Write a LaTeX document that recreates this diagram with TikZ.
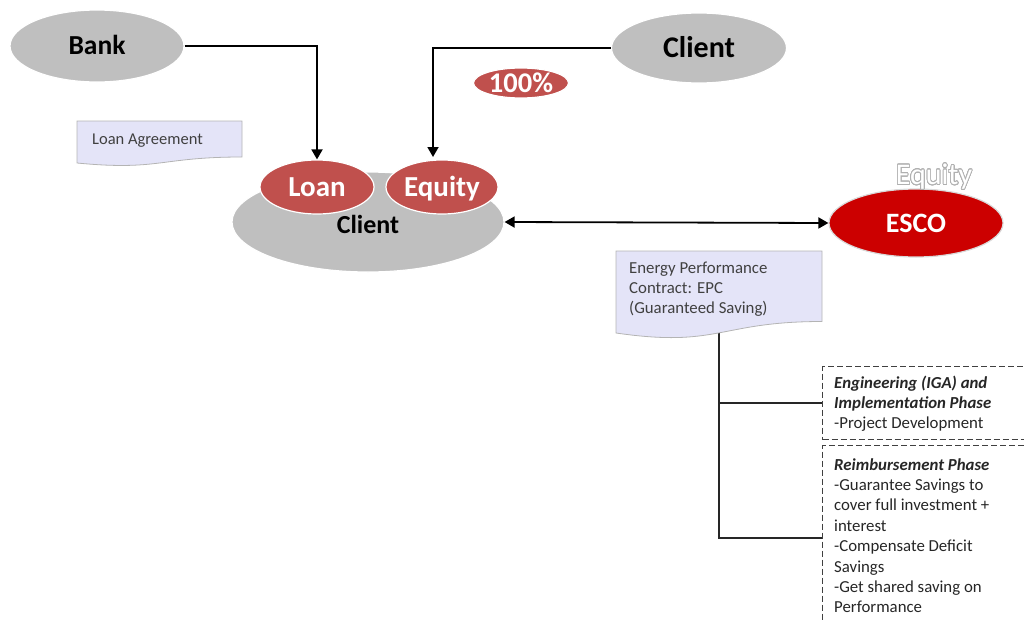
\documentclass[tikz,border=0pt]{standalone}
\usepackage{fontspec}
\setmainfont{Carlito}
\usepackage{contour}
\usetikzlibrary{shapes.geometric,arrows.meta}
\definecolor{ovalgray}{HTML}{BFBFBF}
\definecolor{ovalred}{HTML}{C0504D}
\definecolor{escored}{HTML}{CC0000}
\definecolor{notefill}{HTML}{E4E4F8}
\definecolor{noteline}{HTML}{B4B4B4}
\definecolor{txtgray}{HTML}{404040}
\definecolor{txtdark}{HTML}{262626}
\definecolor{outlinegray}{HTML}{B0B0B0}
\contourlength{0.8pt}
\contournumber{24}
\begin{document}
\begin{tikzpicture}[x=1pt,y=-1pt,
  oval/.style={ellipse,inner sep=0pt,draw=white,line width=1.2pt,text depth=0pt},
  grayoval/.style={oval,fill=ovalgray,text=black},
  redoval/.style={oval,fill=ovalred,text=white},
  conn/.style={line width=1.8pt,-{Triangle[length=10pt,width=11pt]}},
  note/.style={fill=notefill,draw=noteline,line width=0.8pt},
  phase/.style={draw=txtgray,line width=1.3pt,dash pattern=on 6pt off 3pt,inner sep=0pt,anchor=north west},
  tree/.style={draw=black!85,line width=1.6pt},
  body/.style={inner sep=0pt,align=left,anchor=north west,font=\fontsize{16.8}{20.4}\selectfont}]
\useasboundingbox (0,0) rectangle (1024,621);
\clip (0,0) rectangle (1024,621);

% gray ovals
\node[grayoval,minimum width=174pt,minimum height=72pt,text height=17.4pt,font=\bfseries\fontsize{27.5}{27.5}\selectfont] (bank) at (97,46) {Bank};
\node[grayoval,minimum width=175pt,minimum height=70pt,text height=19.3pt,font=\bfseries\fontsize{30}{30}\selectfont] (client) at (699,48) {Client};
\node[redoval,minimum width=95pt,minimum height=30pt,text height=18pt,font=\bfseries\fontsize{28.5}{28.5}\selectfont] (pct) at (521,83) {100\%};

% big client with loan / equity
\node[grayoval,minimum width=272pt,minimum height=100pt] (bigclient) at (368,222) {};
\node[inner sep=0pt,font=\bfseries\fontsize{26}{26}\selectfont,text height=16.7pt,text depth=0pt] (clienttxt) at (368,225) {Client};
\node[redoval,minimum width=114pt,minimum height=54pt,text height=18.7pt,font=\bfseries\fontsize{29}{29}\selectfont] (loan) at (317,187) {Loan};
\node[redoval,minimum width=112pt,minimum height=54pt,text height=18.7pt,font=\bfseries\fontsize{29}{29}\selectfont] (equity) at (442,187) {Equity};

% ESCO
\node[oval,fill=escored,text=white,draw=white!85!black,minimum width=174pt,minimum height=68pt,text height=18pt,font=\bfseries\fontsize{28}{28}\selectfont] (esco) at (916,223) {ESCO};
\node[inner sep=0pt,font=\fontsize{30}{30}\selectfont] (escoeq) at (934,177) {\contour{outlinegray}{\textcolor{white}{Equity}}};

% Loan agreement note
\path[note] (77,121) -- (242,121) -- (242,157) .. controls (159.5,157) and (159.5,171) .. (77,163) -- cycle;
\node[inner sep=0pt,anchor=base west,text=txtgray,font=\fontsize{16.5}{20}\selectfont] (loanagr) at (92,144) {Loan Agreement};

% connectors
\draw[conn] (bank.east) -| (loan.north);
\coordinate (eqin) at (433,157);
\draw[conn] (client.west) -| (eqin);
\draw[line width=1.8pt,{Triangle[length=10pt,width=11pt]}-{Triangle[length=10pt,width=11pt]}] (bigclient.east) -- (esco.west);

% phase boxes
\node[phase,minimum width=230pt,minimum height=73pt] (ph1) at (822,366) {};
\node[phase,minimum width=230pt,minimum height=200pt] (ph2) at (822,445) {};

% tree
\coordinate (trtop) at (719,300);
\coordinate (j2) at (719,538);
\draw[tree] (trtop) -- (j2) -- (j2 -| ph2.west);
\draw[tree] (ph1.west -| trtop) -- (ph1.west);

% EPC note
\path[note] (616,251) -- (822,251) -- (822,321.5) .. controls (719,321.5) and (719,348) .. (616,333) -- cycle;
\node[body,text=txtgray,font=\fontsize{16.8}{20}\selectfont] (epc) at (629,259)
  {\strut Energy Performance\\Contract: EPC\\(Guaranteed Saving)};

% phase texts
\node[body,text=txtdark] (ph1txt) at (834,373.7)
  {\strut\textbf{\textit{Engineering (IGA) and}}\\\textbf{\textit{Implementation Phase}}\\-Project Development};
\node[body,text=txtdark] (ph2txt) at (834,455.7)
  {\strut\textbf{\textit{Reimbursement Phase}}\\-Guarantee Savings to\\cover full investment +\\interest\\-Compensate Deficit\\Savings\\-Get shared saving on\\Performance};
\end{tikzpicture}
\end{document}
